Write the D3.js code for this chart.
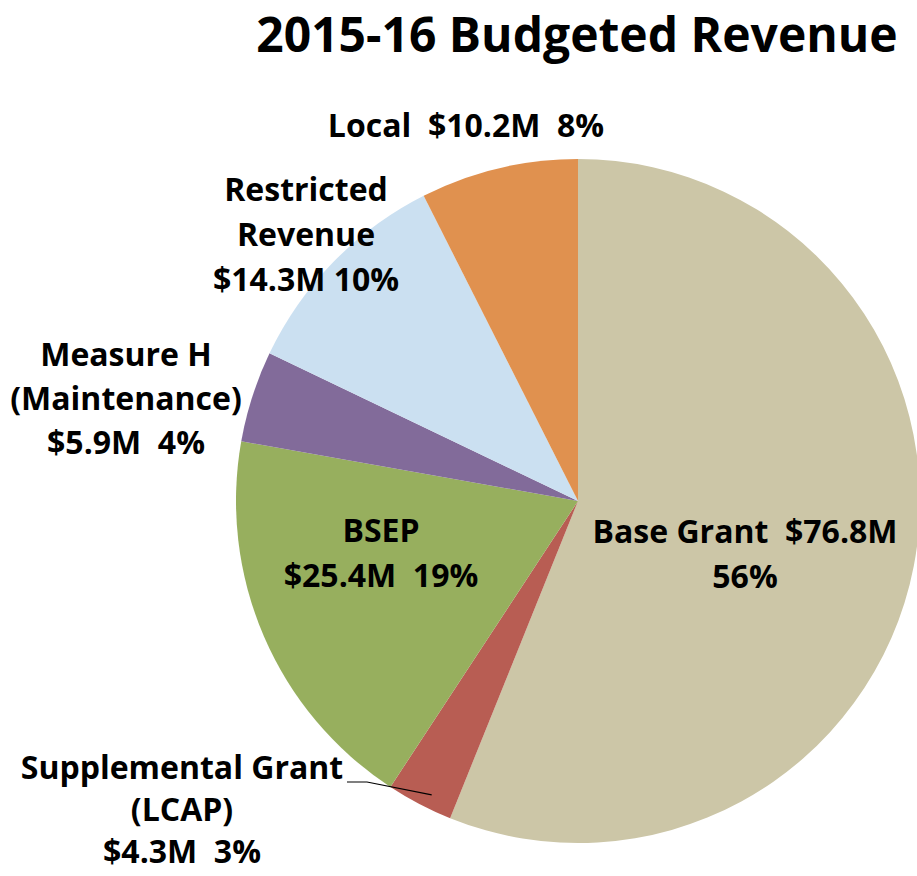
<!DOCTYPE html>
<html>
<head>
<meta charset="utf-8">
<script src="https://cdn.jsdelivr.net/npm/d3@7"></script>
<style>
  body { margin: 0; background: #fff; }
  svg { display: block; font-family: "Open Sans", Lato, sans-serif; font-weight: bold; }
</style>
</head>
<body>
<div id="chart"></div>
<script>
// slice data, clockwise from 12 o'clock
let categories = ["Base Grant", "Supplemental Grant (LCAP)", "BSEP", "Measure H (Maintenance)", "Restricted Revenue", "Local"];
let values = [76.8, 4.3, 25.4, 5.9, 14.3, 10.2];
let percents = [56, 3, 19, 4, 10, 8];
let colors = ["#ccc6a7", "#b85d53", "#97af5e", "#826b9a", "#cbe0f1", "#e0914f"];

// label text lines per slice
let labelLines = [
    ["Base Grant  $76.8M", "56%"],
    ["Supplemental Grant", "(LCAP)", "$4.3M  3%"],
    ["BSEP", "$25.4M  19%"],
    ["Measure H", "(Maintenance)", "$5.9M  4%"],
    ["Restricted", "Revenue", "$14.3M 10%"],
    ["Local  $10.2M  8%"]
];
// label anchors (centre x, first baseline y, line step)
let labelPos = [[745, 543, 45], [182, 779, 42], [381, 542, 45], [126, 366, 44], [306, 201, 45], [466, 137, 0]];

let width = 917, height = 876;
let cx = 578, cy = 501, radius = 342;

let svg = d3.select("#chart").append("svg")
    .attr("width", width)
    .attr("height", height);

svg.append("text")
    .attr("x", 577)
    .attr("y", 52)
    .attr("text-anchor", "middle")
    .attr("font-size", 48)
    .attr("fill", "#000")
    .text("2015-16 Budgeted Revenue");

let g = svg.append("g").attr("transform", "translate(" + cx + "," + cy + ")");

let pie = d3.pie().sort(null).value(function (d) { return d; });
let arc = d3.arc().innerRadius(0).outerRadius(radius);

let arcs = pie(values);

g.selectAll("path.slice")
    .data(arcs)
    .enter().append("path")
    .attr("class", "slice")
    .attr("d", arc)
    .attr("fill", function (d, i) { return colors[i]; });

// leader line for the small supplemental slice
let sup = arcs[1];
let mid = (sup.startAngle + sup.endAngle) / 2 - 0.02;
let r0 = radius * 0.96;
let px = Math.sin(mid) * r0, py = -Math.cos(mid) * r0;
g.append("polyline")
    .attr("points", [[px, py], [367 - cx, 782 - cy], [347 - cx, 782 - cy]].map(function (p) { return p.join(","); }).join(" "))
    .attr("fill", "none")
    .attr("stroke", "#000")
    .attr("stroke-width", 1.2);

let labels = svg.selectAll("text.lbl")
    .data(labelLines)
    .enter().append("text")
    .attr("class", "lbl")
    .attr("text-anchor", "middle")
    .attr("font-size", 32)
    .attr("fill", "#000");

labels.each(function (lines, i) {
    let t = d3.select(this);
    lines.forEach(function (line, j) {
        t.append("tspan")
            .attr("x", labelPos[i][0])
            .attr("y", labelPos[i][1] + j * labelPos[i][2])
            .style("white-space", "pre")
            .text(line);
    });
});
</script>
</body>
</html>
